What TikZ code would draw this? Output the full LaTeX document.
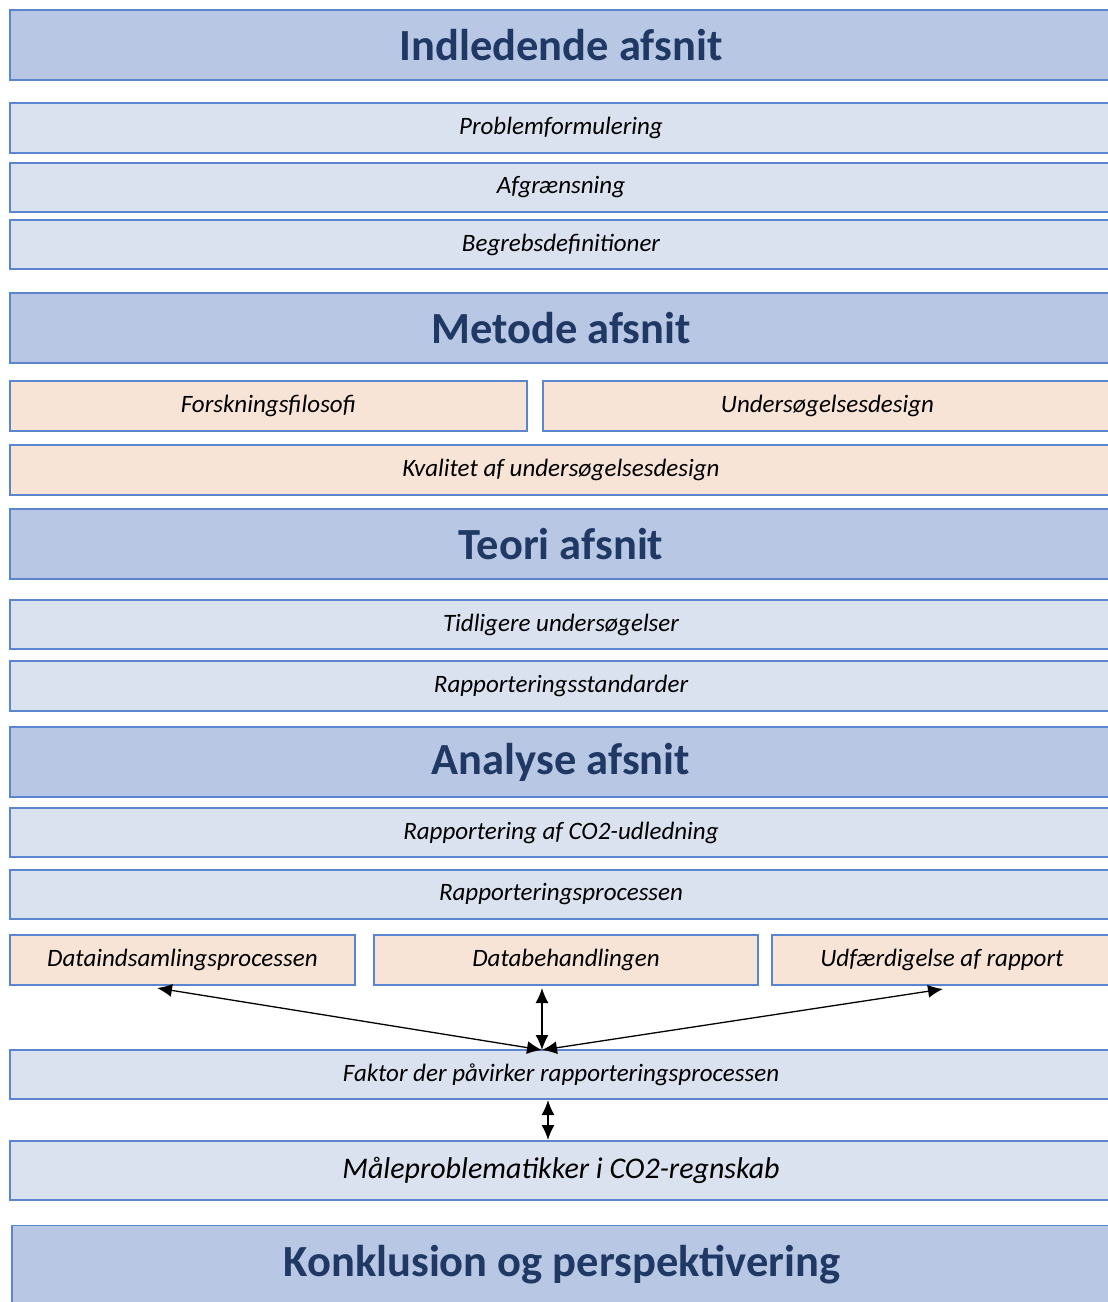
\documentclass[tikz,border=0pt]{standalone}
\usepackage{fontspec}
\setmainfont{Carlito}
\usetikzlibrary{arrows.meta}
\definecolor{boxline}{HTML}{5B85CF}
\definecolor{headfill}{HTML}{B8C7E3}
\definecolor{itemfill}{HTML}{DAE2F0}
\definecolor{peachfill}{HTML}{F8E4D7}
\definecolor{headtext}{HTML}{203864}

\begin{document}
\begin{tikzpicture}[x=1pt,y=-1pt,>={Latex[length=15pt,width=13pt]},
  head node/.style={draw=boxline,line width=1.2pt,fill=headfill,inner sep=0pt,
    minimum width=1102pt,minimum height=70pt,text=headtext,
    font=\fontsize{44.5}{52}\selectfont\bfseries},
  item node/.style={draw=boxline,line width=1.2pt,fill=itemfill,inner sep=0pt,
    minimum width=1102pt,minimum height=50pt,
    font=\fontsize{25}{30}\selectfont\itshape},
  peach node/.style={item node,fill=peachfill}]
  \useasboundingbox (0,0) rectangle (1108,1302);

  \node[head node] (indl) at (561,45) {Indledende afsnit};
  \node[item node] (probl) at (561,128) {Problemformulering};
  \node[item node,minimum height=49pt] (afgr) at (561,187.5) {Afgrænsning};
  \node[item node,minimum height=49pt] (begr) at (561,244.5) {Begrebsdefinitioner};

  \node[head node] (metode) at (561,328) {Metode afsnit};
  \node[peach node,minimum width=517pt] (forsk) at (268.5,406) {Forskningsfilosofi};
  \node[peach node,minimum width=569pt] (design) at (827.5,406) {Undersøgelsesdesign};
  \node[peach node] (kval) at (561,470) {Kvalitet af undersøgelsesdesign};

  \node[head node] (teori) at (561,544) {Teori afsnit};
  \node[item node,minimum height=49pt] (tidl) at (561,624.5) {Tidligere undersøgelser};
  \node[item node] (standard) at (561,686) {Rapporteringsstandarder};

  \node[head node] (analyse) at (561,762) {Analyse afsnit};
  \node[item node,minimum height=49pt] (rapco) at (561,832.5) {Rapportering af CO2-udledning};
  \node[item node,minimum height=49pt] (rapproc) at (561,894.5) {Rapporteringsprocessen};
  \node[peach node,minimum width=345pt] (dataind) at (182.5,960) {Dataindsamlingsprocessen};
  \node[peach node,minimum width=384pt] (databeh) at (566,960) {Databehandlingen};
  \node[peach node,minimum width=340pt] (udf) at (942,960) {Udfærdigelse af rapport};

  \node[item node,minimum height=49pt] (faktor) at (561,1074.5) {Faktor der påvirker rapporteringsprocessen};
  \node[item node,minimum height=59pt,font=\fontsize{30}{36}\selectfont\itshape] (maale) at (561,1170.5) {Måleproblematikker i CO2-regnskab};

  \node[head node,minimum width=1100pt,minimum height=79pt] (konkl) at (562,1265) {Konklusion og perspektivering};

  % arrow ends
  \coordinate (hub) at (542,1050);
  \coordinate (dataind end) at (157,988);
  \coordinate (databeh end) at (542,988);
  \coordinate (udf end) at (943,989);
  \coordinate (faktor end) at (548,1100);
  \coordinate (maale end) at (548,1140);

  \path[<->,line width=1.3pt]
    (hub) edge (dataind end)
    (hub) edge (databeh end)
    (hub) edge (udf end)
    (faktor end) edge (maale end);
\end{tikzpicture}
\end{document}
